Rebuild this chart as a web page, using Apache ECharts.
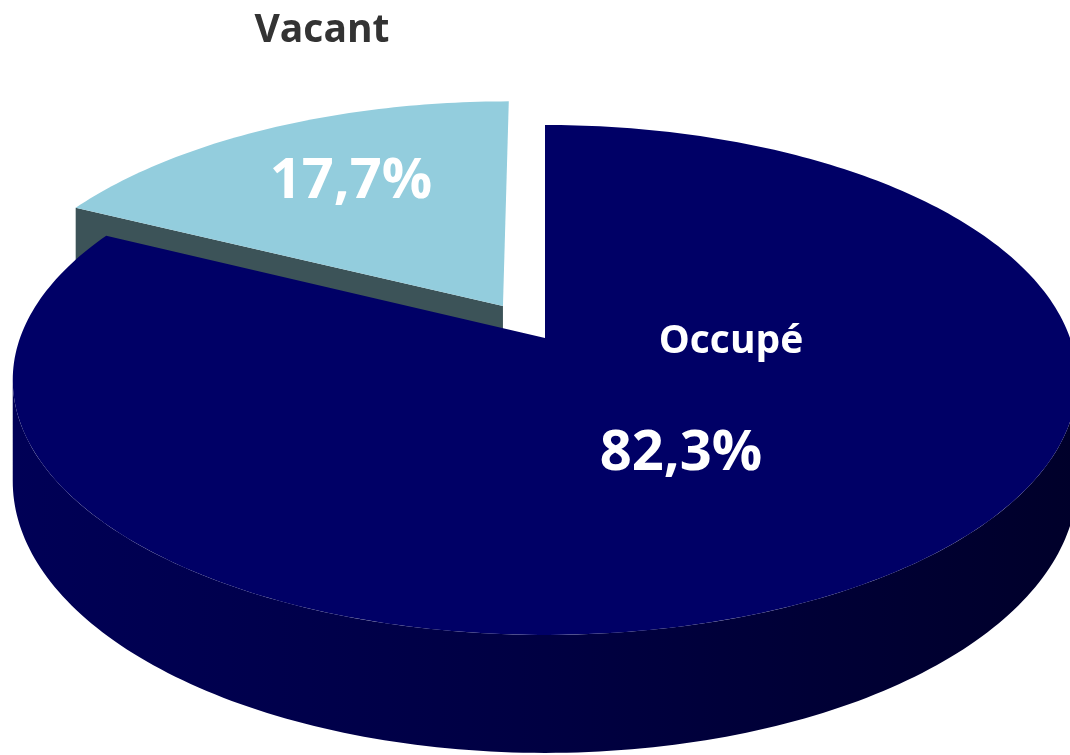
<!DOCTYPE html>
<html lang="fr">
<head>
<meta charset="utf-8">
<title>Occupé / Vacant</title>
<script src="https://cdn.jsdelivr.net/npm/echarts@6/dist/echarts.min.js"></script>
<style>
html, body { margin: 0; padding: 0; background: #fff; }
#container { width: 1070px; height: 755px; }
</style>
</head>
<body>
<div id="container"></div>
<script>
var categories = ['Occupé', 'Vacant'];
var shares = [82.3, 17.7];

// look of the 3d pie
var topColors = ['#000066', '#93cddd'];
var wallColors = ['#00003a', '#3c5358'];
var sideColors = [
  ['#000056', '#000042', '#00002a'],
  ['#3c5358', '#3c5358', '#3c5358']
];
var nameColors = ['#ffffff', '#333333'];
var explodeBy = { 'Vacant': 0.155 };
var labelSpots = {
  'Occupé': { name: [731, 342], value: [681, 454] },
  'Vacant': { name: [322, 31], value: [351, 182] }
};

// perspective: disc of radius 1, k = R / camera distance
var CX = 545, RX = 525, K = 0.1646, HORIZON = -1169, DEPTH = 1507, THICK = 0.0654;

function project(xn, zn, low) {
  var d = 1 + K * zn;
  return [CX + RX * xn / d, HORIZON + DEPTH * (low ? 1 + THICK : 1) / d];
}

function fmt(v) {
  return v.toFixed(1).replace('.', ',') + '%';
}

var total = shares.reduce(function (a, b) { return a + b; }, 0);
// outer wall is seen only between these angles (0 = far side, clockwise)
var wallFrom = Math.acos(-K), wallTo = 2 * Math.PI - Math.acos(-K);

function renderSlice(params, api) {
  var i = params.dataIndex;
  var before = shares.slice(0, i).reduce(function (a, b) { return a + b; }, 0);
  var a0 = before / total * 2 * Math.PI;
  var a1 = (before + shares[i]) / total * 2 * Math.PI;
  var mid = (a0 + a1) / 2;
  var e = explodeBy[categories[i]] || 0;
  var ox = e * Math.sin(mid), oz = e * Math.cos(mid);

  function pt(a, r, low) {
    return api.coord(project(ox + r * Math.sin(a), oz + r * Math.cos(a), low));
  }
  function arc(from, to, low) {
    var n = Math.max(8, Math.ceil((to - from) / (Math.PI / 180)));
    var out = [];
    for (var s = 0; s <= n; s++) out.push(pt(from + (to - from) * s / n, 1, low));
    return out;
  }

  // far slices are painted first
  var base = Math.round(-Math.cos(mid) * 10) + 20;
  var children = [];

  var w0 = Math.max(a0, wallFrom), w1 = Math.min(a1, wallTo);
  if (w1 > w0) {
    children.push({
      type: 'polygon', z2: base,
      shape: { points: arc(w0, w1, false).concat(arc(w0, w1, true).reverse()) },
      style: {
        fill: new echarts.graphic.LinearGradient(0, 0, 1, 0, [
          { offset: 0, color: sideColors[i][0] },
          { offset: 0.5, color: sideColors[i][1] },
          { offset: 1, color: sideColors[i][2] }
        ])
      }
    });
  }

  // cut walls that face the viewer
  [[a0, a0 - Math.PI / 2], [a1, a1 + Math.PI / 2]].forEach(function (w) {
    if (Math.cos(w[1]) < -0.02) {
      children.push({
        type: 'polygon', z2: base + 1,
        shape: { points: [pt(w[0], 0, false), pt(w[0], 1, false), pt(w[0], 1, true), pt(w[0], 0, true)] },
        style: { fill: wallColors[i] }
      });
    }
  });

  children.push({
    type: 'polygon', z2: base + 2,
    shape: { points: [pt(0, 0, false)].concat(arc(a0, a1, false)) },
    style: { fill: topColors[i] }
  });

  var spot = labelSpots[categories[i]];
  children.push({
    type: 'text', z2: 60,
    style: {
      text: categories[i], x: spot.name[0], y: spot.name[1],
      align: 'center', verticalAlign: 'middle',
      fontFamily: '"Open Sans"', fontWeight: 'bold', fontSize: 39,
      fill: nameColors[i]
    }
  });
  children.push({
    type: 'text', z2: 60,
    style: {
      text: fmt(shares[i]), x: spot.value[0], y: spot.value[1],
      align: 'center', verticalAlign: 'middle',
      fontFamily: '"Open Sans"', fontWeight: 'bold', fontSize: 56,
      fill: '#ffffff'
    }
  });

  return { type: 'group', children: children };
}

var myChart = echarts.init(document.getElementById('container'));
var option = {
  animation: false,
  grid: { left: 0, right: 0, top: 0, bottom: 0 },
  xAxis: { type: 'value', min: 0, max: 1070, show: false },
  yAxis: { type: 'value', min: 0, max: 755, inverse: true, show: false },
  series: [{
    type: 'custom',
    name: 'Occupation',
    renderItem: renderSlice,
    data: shares.map(function (v, i) { return [i, v]; }),
    encode: { x: -1, y: -1 },
    silent: true
  }]
};
myChart.setOption(option);
</script>
</body>
</html>
